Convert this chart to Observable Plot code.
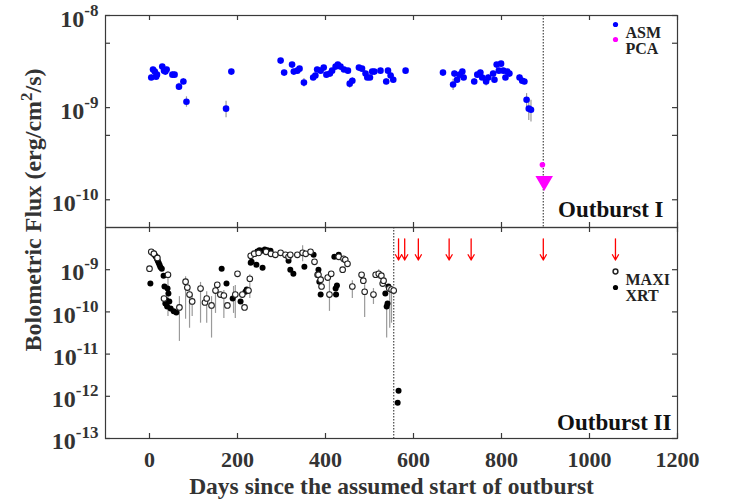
<!DOCTYPE html>
<html><head><meta charset="utf-8">
<script src="https://cdn.jsdelivr.net/npm/d3@7"></script>
<script src="https://cdn.jsdelivr.net/npm/@observablehq/plot@0.6"></script>
<style>
body{margin:0;background:#fff;}
#wrap{position:relative;width:729px;height:501px;font-family:"Liberation Serif",serif;}
#wrap > svg{position:absolute;left:0;overflow:visible;}
</style></head><body><div id="wrap"></div>
<script>
// ---------- data ----------
const xTicks = [0, 200, 400, 600, 800, 1000, 1200];
const topYTicks = [1e-8, 1e-9, 1e-10];
const topYMinor = [5e-9, 5e-10];
const botYTicks = [1e-9, 1e-10, 1e-11, 1e-12, 1e-13];

// Outburst I: RXTE/ASM (flux in 1e-9 erg/cm2/s)
const asmDay = [4,8,12,15,17,29,33,36,39,52,57,67,77,84,174,186,298,306,324,328,336,341,351,372,377,381,389,396,402,410,415,423,428,434,442,451,455,461,476,483,491,495,501,506,511,525,538,542,548,554,582,667,690,693,699,705,711,714,738,745,752,756,765,770,781,784,789,794,799,804,809,813,818,841,847,852,857,862,867];
const asmFlux9 = [2.12,2.59,2.46,2.17,2.28,2.79,2.52,2.46,2.59,2.28,2.28,1.69,1.92,1.16,0.975,2.46,3.24,2.40,2.93,2.46,2.52,2.65,1.87,2.12,2.23,2.59,2.52,2.72,2.28,2.34,2.52,2.79,2.93,2.79,2.59,2.52,1.82,1.96,2.72,2.65,2.34,2.12,2.12,2.46,2.46,2.52,1.92,2.52,2.23,2.01,2.52,2.40,1.78,2.34,2.01,2.28,2.46,2.12,1.92,2.28,2.40,2.12,1.92,2.12,2.34,2.01,2.93,2.52,3.0,2.52,2.12,2.46,2.34,2.12,1.96,1.92,1.22,0.975,0.95];
const asmErr9 = [0.15,0.15,0.15,0.15,0.15,0.15,0.15,0.15,0.15,0.15,0.15,0.15,0.15,0.15,0.2,0.15,0.15,0.15,0.15,0.15,0.15,0.15,0.2,0.15,0.15,0.15,0.15,0.15,0.15,0.15,0.15,0.15,0.15,0.15,0.15,0.15,0.2,0.15,0.15,0.15,0.15,0.15,0.15,0.15,0.15,0.15,0.15,0.15,0.15,0.15,0.15,0.15,0.25,0.15,0.15,0.15,0.15,0.15,0.15,0.15,0.15,0.15,0.2,0.15,0.15,0.15,0.15,0.15,0.15,0.15,0.15,0.15,0.15,0.15,0.15,0.15,0.2,0.25,0.25];
// PCA detection and upper limit
const pcaDay = [893];
const pcaFlux9 = [0.24];
const pcaLimitDay = [897];
const pcaLimitFlux9 = [0.16];
const outburst1End = [895];

// Outburst II: MAXI (open) and XRT (filled), flux in 1e-9 erg/cm2/s
const maxiDay = [0,4,10,18,33,42,68,82,86,91,97,116,126,130,141,150,154,161,169,177,195,200,211,216,225,228,230,238,248,265,276,286,298,309,316,320,336,348,355,366,375,382,384,389,391,405,409,413,430,439,441,445,450,461,482,486,489,509,514,521,527,530,532,545,550,555];
const maxiFlux9 = [1.06,2.65,2.4,1.9,0.208,0.76,0.128,0.52,0.377,0.258,0.177,0.357,0.167,0.208,0.142,0.32,0.44,0.258,0.245,0.142,0.258,0.80,0.258,0.128,0.32,0.61,2.13,2.4,2.5,2.65,2.38,2.25,2.51,2.25,2.02,2.25,2.25,2.51,2.38,2.65,1.54,0.76,0.76,0.58,0.40,0.65,0.258,0.80,2.02,1.0,1.81,1.72,1.38,0.40,0.76,0.55,0.30,0.258,0.76,0.80,0.72,0.47,0.55,0.357,0.338,0.32];
const xrtDay = [2,7,9,11,13,15,17,19,21,23,25,28,32,34,36,38,40,41,43,45,48,55,61,164,175,189,207,218,221,230,232,240,243,245,250,255,257,262,268,275,316,320,327,352,373,384,386,389,420,423,424,426,430,536,539,541,543,564,566];
const xrtFlux9 = [0.47,2.5,2.4,2.3,2.15,2.0,1.8,1.6,1.45,1.3,1.15,1.05,0.72,0.40,0.158,0.19,0.135,0.357,0.272,0.177,0.12,0.103,0.097,1.06,0.47,0.208,0.177,0.30,0.338,1.46,1.54,2.4,1.31,2.7,2.9,2.8,1.11,3.0,2.9,2.8,1.63,1.0,0.80,1.18,2.25,1.0,0.52,0.258,2.02,0.357,0.258,0.42,2.25,0.272,0.135,0.158,0.40,0.0007,0.00135];
// visible error bars in outburst II (day, low, high; 1e-9 erg/cm2/s)
const errDay = [42,68,82,91,97,116,130,141,150,169,191,195,228,348,409,461,489,509,521,539,546,550];
const errLo9 = [0.078,0.02,0.067,0.041,0.078,0.054,0.054,0.024,0.092,0.07,0.092,0.07,0.208,1.54,0.103,0.208,0.074,0.15,0.6,0.024,0.041,0.054];
const errHi9 = [0.9,0.23,0.68,0.34,0.25,0.5,0.30,0.23,0.44,0.32,0.4,0.42,0.76,3.67,0.76,0.55,0.44,0.357,1.0,0.16,0.44,0.40];
// upper limits (red arrows)
const limitDay = [566,580,611,681,731,895,1059];
const limitTop9 = 5.4;
const limitTip9 = 1.7;
const outburst2End = [555];

// ---------- build tables ----------
const U = 1e-9;
const asm = asmDay.map((d,i)=>({day:d, flux:asmFlux9[i]*U, lo:(asmFlux9[i]-asmErr9[i])*U, hi:(asmFlux9[i]+asmErr9[i])*U}));
const pca = pcaDay.map((d,i)=>({day:d, flux:pcaFlux9[i]*U}));
const pcaLim = pcaLimitDay.map((d,i)=>({day:d, flux:pcaLimitFlux9[i]*U}));
const maxi = maxiDay.map((d,i)=>({day:d, flux:maxiFlux9[i]*U}));
const xrt = xrtDay.map((d,i)=>({day:d, flux:xrtFlux9[i]*U}));
const errs = errDay.map((d,i)=>({day:d, lo:errLo9[i]*U, hi:errHi9[i]*U}));
const limits = limitDay.map(d=>({day:d, top:limitTop9*U, tip:limitTip9*U}));

// ---------- layout ----------
const W = 729, ML = 105, MR = 52;
const TOP_H = 227, TOP_MT = 15;
const BOT_H = 274, BOT_MB = 63;
const PW = W - ML - MR;
const TOP_PH = TOP_H - TOP_MT;
const BOT_PH = BOT_H - BOT_MB;
const TL = 5;
const FRAME = "#3a3a3a";
const FONT = "Liberation Serif";
const xDomain = [-100, 1200];

function inwardTicks(yT, ph) {
  return [
    Plot.tickX(xTicks, {x: d=>d, insetTop: ph-TL, stroke: FRAME, strokeWidth: 1.2}),
    Plot.tickX(xTicks, {x: d=>d, insetBottom: ph-TL, stroke: FRAME, strokeWidth: 1.2}),
    Plot.tickY(yT, {y: d=>d, insetRight: PW-TL, stroke: FRAME, strokeWidth: 1.2}),
    Plot.tickY(yT, {y: d=>d, insetLeft: PW-TL, stroke: FRAME, strokeWidth: 1.2})
  ];
}
const expFmt = d => "10^" + Math.round(Math.log10(d));
const style = {fontFamily: FONT, fontWeight: "bold", background: "transparent", overflow: "visible", color: "#333"};

const topPlot = Plot.plot({
  width: W, height: TOP_H, marginLeft: ML, marginRight: MR, marginTop: TOP_MT, marginBottom: 0,
  style,
  x: {domain: xDomain, axis: null, label: null},
  y: {type: "log", domain: [5e-11, 1e-8], axis: null, label: null},
  marks: [
    Plot.ruleX(outburst1End, {x: d=>d, stroke: "#555", strokeDasharray: "1.5,1.5", strokeWidth: 1.3}),
    Plot.ruleX(asm, {x: "day", y1: "lo", y2: "hi", stroke: "#9a9a9a", strokeWidth: 1.2}),
    Plot.dot(asm, {x: "day", y: "flux", fill: "#0000ff", r: 3.3}),
    Plot.dot(pca, {x: "day", y: "flux", fill: "#ff00ff", r: 2.8}),
    Plot.dot(pcaLim, {x: "day", y: "flux", fill: "#ff00ff", symbol: "triangle", rotate: 180, r: 6.5}),
    Plot.axisY(topYTicks, {tickSize: 0, tickPadding: 7, tickFormat: expFmt, fontSize: 24, dy: 4, fill: "#333"}),
    ...inwardTicks([...topYTicks, ...topYMinor], TOP_PH),
    Plot.frame({stroke: FRAME, strokeWidth: 1.2}),
    Plot.dot(["ASM"], {frameAnchor: "top-right", dx: -62, dy: 9, fill: "#0000ff", r: 2.6}),
    Plot.dot(["PCA"], {frameAnchor: "top-right", dx: -62, dy: 24, fill: "#ff00ff", r: 2.6}),
    Plot.text(["ASM"], {frameAnchor: "top-right", text: d=>d, textAnchor: "start", dx: -52, dy: 11, fontSize: 16, fill: "#222"}),
    Plot.text(["PCA"], {frameAnchor: "top-right", text: d=>d, textAnchor: "start", dx: -52, dy: 27, fontSize: 16, fill: "#222"}),
    Plot.text(["Outburst I"], {frameAnchor: "bottom-right", text: d=>d, textAnchor: "end", dx: -14, dy: -11, fontSize: 23, fill: "#111"})
  ]
});

const botPlot = Plot.plot({
  width: W, height: BOT_H, marginLeft: ML, marginRight: MR, marginTop: 0, marginBottom: BOT_MB,
  style,
  x: {domain: xDomain, axis: null, label: null},
  y: {type: "log", domain: [1e-13, 1e-8], axis: null, label: null},
  marks: [
    Plot.ruleX(outburst2End, {x: d=>d, stroke: "#555", strokeDasharray: "1.5,1.5", strokeWidth: 1.3}),
    Plot.ruleX(errs, {x: "day", y1: "lo", y2: "hi", stroke: "#9a9a9a", strokeWidth: 1.2}),
    Plot.dot(xrt, {x: "day", y: "flux", fill: "#000", r: 3}),
    Plot.dot(maxi, {x: "day", y: "flux", fill: "#fff", stroke: "#222", strokeWidth: 1.1, r: 2.8}),
    Plot.arrow(limits, {x1: "day", x2: "day", y1: "top", y2: "tip", stroke: "#ff0000", strokeWidth: 1.3, headLength: 7}),
    Plot.axisY(botYTicks, {tickSize: 0, tickPadding: 7, tickFormat: expFmt, fontSize: 24, dy: 3, fill: "#333"}),
    Plot.axisX(xTicks, {tickSize: 0, tickPadding: 13, tickFormat: d => String(d), fontSize: 22, fill: "#333"}),
    ...inwardTicks(botYTicks, BOT_PH),
    Plot.frame({stroke: FRAME, strokeWidth: 1.2}),
    Plot.dot(["MAXI"], {frameAnchor: "top-right", dx: -62, dy: 44, fill: "#fff", stroke: "#222", r: 2.4}),
    Plot.dot(["XRT"], {frameAnchor: "top-right", dx: -62, dy: 60, fill: "#000", r: 2.6}),
    Plot.text(["MAXI"], {frameAnchor: "top-right", text: d=>d, textAnchor: "start", dx: -52, dy: 46, fontSize: 16, fill: "#222"}),
    Plot.text(["XRT"], {frameAnchor: "top-right", text: d=>d, textAnchor: "start", dx: -52, dy: 62, fontSize: 16, fill: "#222"}),
    Plot.text(["Outburst II"], {frameAnchor: "bottom-right", text: d=>d, textAnchor: "end", dx: -6, dy: -9, fontSize: 23, fill: "#111"}),
    Plot.text(["Days since the assumed start of outburst"], {frameAnchor: "bottom", text: d=>d, dx: 0, dy: 55, fontSize: 23.5, fill: "#333"})
  ]
});

function supify(svg) {
  svg.querySelectorAll('g[aria-label="y-axis tick label"] text').forEach(t => {
    const parts = t.textContent.split("^");
    if (parts.length !== 2) return;
    t.textContent = parts[0];
    const ts = document.createElementNS("http://www.w3.org/2000/svg", "tspan");
    ts.setAttribute("dy", "-11");
    ts.setAttribute("font-size", "17");
    ts.textContent = parts[1];
    t.appendChild(ts);
  });
}
supify(topPlot); supify(botPlot);

const wrap = document.getElementById("wrap");
topPlot.style.top = "0px";
botPlot.style.top = TOP_H + "px";
wrap.appendChild(topPlot);
wrap.appendChild(botPlot);

// y-axis title spanning both panels
const NS = "http://www.w3.org/2000/svg";
const ov = document.createElementNS(NS, "svg");
ov.setAttribute("width", W); ov.setAttribute("height", 501);
ov.style.top = "0px"; ov.style.pointerEvents = "none";
const yt = document.createElementNS(NS, "text");
yt.setAttribute("transform", "translate(41,210) rotate(-90)");
yt.setAttribute("text-anchor", "middle");
yt.setAttribute("font-family", FONT);
yt.setAttribute("font-weight", "bold");
yt.setAttribute("font-size", "24");
yt.setAttribute("fill", "#333");
yt.appendChild(document.createTextNode("Bolometric Flux (erg/cm"));
const sup = document.createElementNS(NS, "tspan");
sup.setAttribute("dy", "-9"); sup.setAttribute("font-size", "17"); sup.textContent = "2";
yt.appendChild(sup);
const rest = document.createElementNS(NS, "tspan");
rest.setAttribute("dy", "9"); rest.textContent = "/s)";
yt.appendChild(rest);
ov.appendChild(yt);
wrap.appendChild(ov);
</script>
</body></html>
